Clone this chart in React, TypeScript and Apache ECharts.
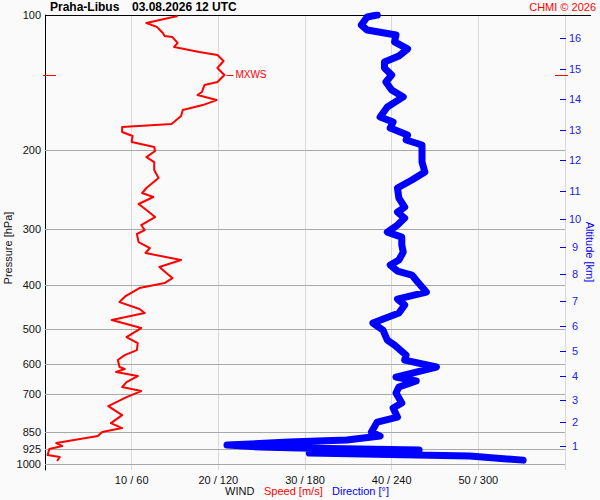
import React, { useEffect, useRef } from "react";
import * as echarts from "echarts";

// ---- data ----
const pressureLevels = [100, 200, 300, 400, 500, 600, 700, 850, 925, 1000];
const altitudeKm = [1, 2, 3, 4, 5, 6, 7, 8, 9, 10, 11, 12, 13, 14, 15, 16];
const altitudePressure = [912, 806, 720, 637, 560, 493, 433, 377, 329, 285, 247, 210, 180, 154, 132, 112.5];

const speedPressure = [
  100.5, 104.2, 106.3, 109.7, 111.4, 112.0, 115.4, 117.8, 120.9, 122.8, 126.6, 131.2, 136.0, 141.0, 143.2,
  148.4, 150.7, 154.7, 158.7, 162.8, 167.9, 174.9, 177.6, 182.2, 186.0, 191.8, 196.8, 200.9, 207.2, 212.6,
  221.5, 230.7, 242.8, 249.2, 254.3, 263.6, 271.9, 281.8, 293.6, 301.2, 307.4, 320.3, 330.3, 338.9, 351.3,
  364.1, 375.5, 385.3, 395.3, 405.6, 422.6, 435.8, 451.7, 461.1, 477.9, 498.0, 521.4, 537.8, 557.4, 571.9,
  586.7, 608.1, 614.4, 623.9, 636.8, 656.8, 673.8, 687.8, 709.3, 742.8, 777.9, 810.5, 831.6, 848.8, 866.4,
  898.1, 912.0, 926.2, 955.0, 964.7, 984.7,
];
const speedValues = [
  15.3, 11.7, 12.9, 13.6, 13.8, 14.7, 15.3, 14.9, 17.8, 19.9, 20.6, 19.9, 20.7, 19.9, 18.4,
  18.1, 17.6, 19.8, 18.2, 15.9, 15.7, 14.6, 8.9, 8.9, 10.1, 10.0, 12.6, 12.7, 11.7, 12.6,
  12.6, 13.1, 11.7, 11.2, 12.5, 10.8, 11.7, 12.7, 11.1, 11.5, 10.6, 10.8, 12.1, 11.6, 15.7,
  13.2, 14.0, 14.7, 13.8, 10.9, 9.3, 8.6, 10.9, 11.5, 7.7, 11.1, 9.4, 10.7, 10.6, 9.2,
  8.4, 8.6, 9.2, 8.2, 10.7, 9.4, 8.9, 11.1, 9.4, 7.3, 8.9, 7.6, 8.9, 6.6, 6.1,
  1.3, 2.0, 0.5, 0.3, 1.7, 1.4,
];

const dirPressure = [
  100, 101, 105.3, 108, 110.8, 114.8, 119, 123.4, 127.3, 131.2, 136, 141, 146.9, 152.2, 160.3,
  168.7, 173.1, 178.6, 185, 189.8, 194.8, 205, 212.5, 223.8, 233.1, 242.8, 255.6, 267.7, 274.7, 283.3,
  293.6, 304.4, 312.3, 325.3, 337.2, 351.3, 360.5, 371.7, 379.4, 393.3, 414, 429.1, 442.5, 461.1, 485.3,
  503, 529.5, 543.3, 571.9, 586.7, 608.1, 640.1, 653.4, 673.8, 694.9, 731.4, 750.4, 786, 806.4, 848.8,
  866.4, 884.3, 893.4, 907.3, 916.6, 921.4, 930.9, 945.4, 960.1, 980.1,
];
const dirValues = [
  230, 223, 219, 223, 243, 242, 251, 245, 235, 235, 240, 236, 240, 248, 237,
  232, 241, 239, 251, 250, 261, 261, 261, 263, 254, 244, 245, 249, 244, 249,
  244, 237, 247, 247, 248, 245, 239, 244, 254, 258, 264, 244, 249, 245, 227,
  234, 237, 242, 250, 249, 271, 243, 257, 245, 243, 247, 241, 244, 230, 226,
  232, 209, 169, 126, 149, 176, 259, 183, 294, 331,
];

const maxWindSpeed = 20.7;
const maxWindPressure = 136;

const FONT = "'Liberation Sans', Arial, Helvetica, sans-serif";
const RED = "#ff0000";
const BLUE = "#0000ff";
const TXT = "#111111";

export default function App() {
  const ref = useRef<HTMLDivElement>(null);

  useEffect(() => {
    if (!ref.current) return;
    const chart = echarts.init(ref.current, undefined, { renderer: "svg" });

    const levelData = pressureLevels.map((p) => [0, p]);
    const altData = altitudeKm.map((k, i) => [60, altitudePressure[i], k]);
    const speedData = speedPressure.map((p, i) => [speedValues[i], p]);
    const dirData = dirPressure.map((p, i) => [dirValues[i], p]);

    const option: any = {
      animation: false,
      backgroundColor: "#fafafa",
      textStyle: { fontFamily: FONT },
      grid: { left: 45, right: 35, top: 15, bottom: 30, containLabel: false },
      xAxis: [
        {
          type: "value",
          min: 0,
          max: 60,
          interval: 10,
          axisLine: { show: false },
          axisTick: { show: false },
          axisLabel: {
            margin: 4,
            fontSize: 11,
            color: TXT,
            fontFamily: FONT,
            formatter: (v: number) => (v > 0 && v < 60 ? `${v} / ${v * 6}` : ""),
          },
          splitLine: {
            show: true,
            showMinLine: false,
            showMaxLine: true,
            lineStyle: { color: "#d9d9d9", width: 1 },
          },
        },
        { type: "value", min: 0, max: 360, show: false, splitLine: { show: false } },
      ],
      yAxis: [
        {
          type: "log",
          logBase: 10,
          min: 100,
          max: 1031,
          inverse: true,
          axisLine: { show: true, lineStyle: { color: "#000", width: 1 } },
          axisTick: { show: false },
          axisLabel: { show: false },
          splitLine: { show: false },
        },
      ],
      graphic: [
        { type: "text", x: 50, y: 7, style: { text: "Praha-Libus", fill: "#000", fontSize: 12, fontWeight: "bold", fontFamily: FONT, verticalAlign: "middle" } },
        { type: "text", x: 132, y: 7, style: { text: "03.08.2026 12 UTC", fill: "#000", fontSize: 12, fontWeight: "bold", fontFamily: FONT, verticalAlign: "middle" } },
        { type: "text", x: 596, y: 7, style: { text: "CHMI © 2026", fill: RED, fontSize: 11, fontFamily: FONT, align: "right", verticalAlign: "middle" } },
        { type: "text", x: 225, y: 491, style: { text: "WIND", fill: TXT, fontSize: 11, fontFamily: FONT, verticalAlign: "middle" } },
        { type: "text", x: 264, y: 491, style: { text: "Speed [m/s]", fill: RED, fontSize: 11, fontFamily: FONT, verticalAlign: "middle" } },
        { type: "text", x: 332, y: 491, style: { text: "Direction [°]", fill: BLUE, fontSize: 11, fontFamily: FONT, verticalAlign: "middle" } },
        { type: "text", x: 8, y: 248, rotation: Math.PI / 2, style: { text: "Pressure [hPa]", fill: TXT, fontSize: 11, fontFamily: FONT, align: "center", verticalAlign: "middle" } },
        { type: "text", x: 590, y: 252, rotation: -Math.PI / 2, style: { text: "Altitude [km]", fill: BLUE, fontSize: 11, fontFamily: FONT, align: "center", verticalAlign: "middle" } },
      ],
      series: [
        {
          type: "custom",
          name: "levels",
          silent: true,
          z: 1,
          xAxisIndex: 0,
          yAxisIndex: 0,
          encode: { x: 0, y: 1 },
          data: levelData,
          renderItem: (params: any, api: any) => {
            const cs = params.coordSys;
            const p = api.value(1);
            const pt = api.coord([0, p]);
            const y = Math.round(pt[1]) + 0.5;
            const isTop = p === 100;
            return {
              type: "group",
              children: [
                {
                  type: "line",
                  shape: { x1: cs.x, y1: y, x2: cs.x + cs.width + (isTop ? 26 : 0), y2: y },
                  style: { stroke: isTop ? "#000" : "#a9a9a9", lineWidth: 1 },
                },
                {
                  type: "text",
                  x: cs.x - 4,
                  y: pt[1],
                  style: { text: String(p), fill: TXT, fontSize: 11, fontFamily: FONT, align: "right", verticalAlign: "middle" },
                },
              ],
            };
          },
        },
        {
          type: "custom",
          name: "altitude",
          silent: true,
          xAxisIndex: 0,
          yAxisIndex: 0,
          encode: { x: 0, y: 1 },
          data: altData,
          renderItem: (params: any, api: any) => {
            const pt = api.coord([api.value(0), api.value(1)]);
            const y = Math.round(pt[1]) + 0.5;
            return {
              type: "group",
              children: [
                { type: "line", shape: { x1: pt[0] - 5, y1: y, x2: pt[0] + 1, y2: y }, style: { stroke: BLUE, lineWidth: 1 } },
                {
                  type: "text",
                  x: pt[0] + 10,
                  y: pt[1],
                  style: { text: String(api.value(2)), fill: "#2222dd", fontSize: 11, fontFamily: FONT, align: "center", verticalAlign: "middle" },
                },
              ],
            };
          },
        },
        {
          type: "line",
          name: "Direction",
          xAxisIndex: 1,
          yAxisIndex: 0,
          data: dirData,
          showSymbol: false,
          symbol: "none",
          silent: true,
          z: 2,
          lineStyle: { color: BLUE, width: 7, cap: "round", join: "round" },
        },
        {
          type: "line",
          name: "Speed",
          xAxisIndex: 0,
          yAxisIndex: 0,
          data: speedData,
          showSymbol: false,
          symbol: "none",
          silent: true,
          z: 3,
          lineStyle: { color: RED, width: 2, join: "round" },
        },
        {
          type: "custom",
          name: "mxws",
          silent: true,
          z: 4,
          xAxisIndex: 0,
          yAxisIndex: 0,
          encode: { x: 0, y: 1 },
          data: [[maxWindSpeed, maxWindPressure]],
          renderItem: (params: any, api: any) => {
            const cs = params.coordSys;
            const pt = api.coord([api.value(0), api.value(1)]);
            const y = Math.round(pt[1]) + 0.5;
            return {
              type: "group",
              children: [
                { type: "line", shape: { x1: pt[0] + 2, y1: y, x2: pt[0] + 9, y2: y }, style: { stroke: RED, lineWidth: 1 } },
                { type: "line", shape: { x1: cs.x - 2, y1: y, x2: cs.x + 11, y2: y }, style: { stroke: RED, lineWidth: 1 } },
                { type: "line", shape: { x1: cs.x + cs.width - 10, y1: y, x2: cs.x + cs.width + 3, y2: y }, style: { stroke: RED, lineWidth: 1 } },
                {
                  type: "text",
                  x: pt[0] + 11,
                  y: pt[1],
                  style: { text: "MXWS", fill: RED, fontSize: 10, fontFamily: FONT, verticalAlign: "middle" },
                },
              ],
            };
          },
        },
      ],
    };

    chart.setOption(option);
    return () => chart.dispose();
  }, []);

  return <div ref={ref} style={{ position: "fixed", left: 0, top: 0, width: 600, height: 500 }} />;
}
